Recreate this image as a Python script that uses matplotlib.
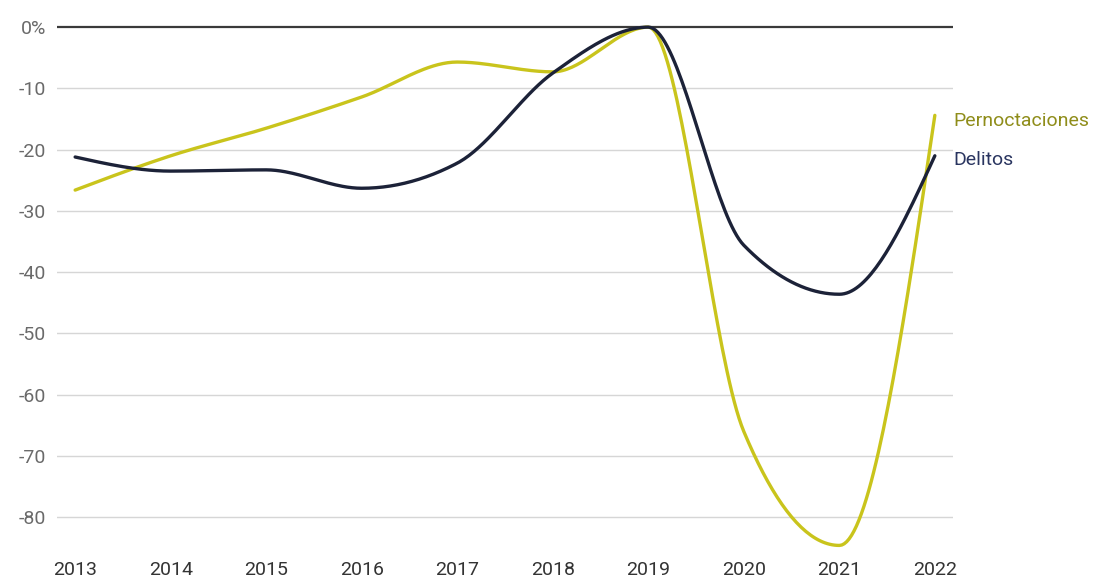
import numpy as np
import matplotlib
matplotlib.use("Agg")
import matplotlib.pyplot as plt

years = [2013, 2014, 2015, 2016, 2017, 2018, 2019, 2020, 2021, 2022]
pernoctaciones = [-26.6, -21.0, -16.5, -11.4, -5.7, -7.3, 0.0, -66.0, -84.6, -14.4]
delitos = [-21.2, -23.5, -23.3, -26.3, -22.2, -7.5, 0.0, -35.6, -43.6, -21.0]
yticks = [0, -10, -20, -30, -40, -50, -60, -70, -80]
ytick_labels = ["0%", "-10", "-20", "-30", "-40", "-50", "-60", "-70", "-80"]

C_PERN = "#c9c41c"
C_PERN_TXT = "#8f8d1a"
C_DEL = "#1c2238"
C_DEL_TXT = "#2a3560"


def monotone_x(x, y, n=40):
    """d3.curveMonotoneX style interpolation."""
    x = np.asarray(x, float)
    y = np.asarray(y, float)
    m = len(x)
    h = np.diff(x)
    s = np.diff(y) / h
    t = np.zeros(m)
    for i in range(1, m - 1):
        h0, h1 = h[i - 1], h[i]
        s0, s1 = s[i - 1], s[i]
        p = (s0 * h1 + s1 * h0) / (h0 + h1)
        t[i] = (np.sign(s0) + np.sign(s1)) * min(abs(s0), abs(s1), 0.5 * abs(p))
    t[0] = (3 * s[0] - t[1]) / 2
    t[-1] = (3 * s[-1] - t[-2]) / 2
    xs, ys = [], []
    for i in range(m - 1):
        u = np.linspace(0, 1, n, endpoint=(i == m - 2))
        dx = h[i]
        h00 = 2 * u**3 - 3 * u**2 + 1
        h10 = u**3 - 2 * u**2 + u
        h01 = -2 * u**3 + 3 * u**2
        h11 = u**3 - u**2
        xs.append(x[i] + u * dx)
        ys.append(h00 * y[i] + h10 * dx * t[i] + h01 * y[i + 1] + h11 * dx * t[i + 1])
    return np.concatenate(xs), np.concatenate(ys)


plt.rcParams["font.family"] = ["Roboto", "DejaVu Sans"]

fig = plt.figure(figsize=(10.97, 5.79), dpi=100)
ax = fig.add_axes([57 / 1097, 25 / 579, (953 - 57) / 1097, (554 - 21) / 579])
ax.set_xlim(2012.81, 2022.19)
ax.set_ylim(-86, 1)

for v in yticks:
    if v == 0:
        ax.axhline(v, color="#3a3a3a", lw=1.6, zorder=3)
    else:
        ax.axhline(v, color="#d6d6d6", lw=1.0, zorder=1)

xd, yd = monotone_x(years, delitos)
xp, yp = monotone_x(years, pernoctaciones)
ax.plot(xp, yp, color=C_PERN, lw=2.4, zorder=4, solid_capstyle="round")
ax.plot(xd, yd, color=C_DEL, lw=2.4, zorder=5, solid_capstyle="round")

ax.annotate("Pernoctaciones", xy=(years[-1], pernoctaciones[-1]), xytext=(13, -4),
            textcoords="offset points", ha="left", va="center",
            color=C_PERN_TXT, fontsize=14)
ax.annotate("Delitos", xy=(years[-1], delitos[-1]), xytext=(13, -3),
            textcoords="offset points", ha="left", va="center",
            color=C_DEL_TXT, fontsize=14)

ax.set_yticks(yticks)
ax.set_yticklabels(ytick_labels, color="#6a6a6a", fontsize=14)
ax.set_xticks(years)
ax.set_xticklabels([str(y) for y in years], color="#333333", fontsize=14)
ax.tick_params(axis="both", length=0)
ax.tick_params(axis="y", pad=8)
ax.tick_params(axis="x", pad=5)
for s in ax.spines.values():
    s.set_visible(False)

fig.savefig("out.png", dpi=100)
